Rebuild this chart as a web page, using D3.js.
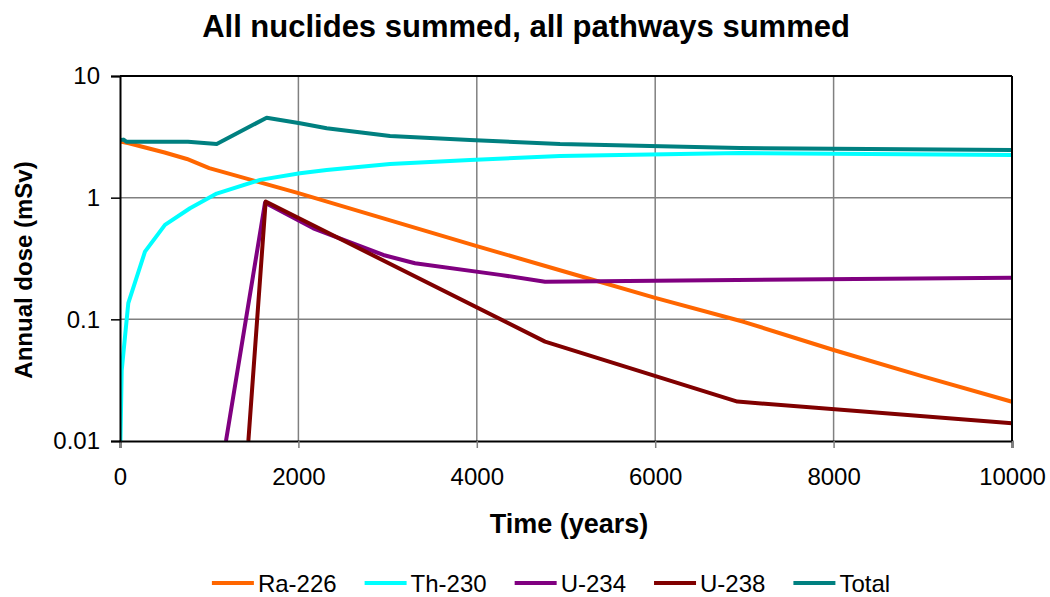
<!DOCTYPE html>
<html>
<head>
<meta charset="utf-8">
<script src="https://cdn.jsdelivr.net/npm/d3@7"></script>
<style>
  html, body { margin: 0; padding: 0; background: #fff; }
  svg { display: block; font-family: "Liberation Sans", Arial, sans-serif; }
</style>
</head>
<body>
<svg id="chart" width="1050" height="597"></svg>
<script>
// ---- data ----
const seriesNames = ["Ra-226", "Th-230", "U-234", "U-238", "Total"];
const seriesColors = ["#FF6600", "#00FFFF", "#800080", "#800000", "#008080"];

const ra226Years = [0, 100, 250, 500, 750, 1000, 1500, 2000, 3000, 4000, 5000, 6000, 7000, 8000, 9000, 10000];
const ra226Dose  = [2.9, 2.8, 2.62, 2.35, 2.08, 1.75, 1.38, 1.09, 0.66, 0.40, 0.245, 0.15, 0.095, 0.056, 0.034, 0.021];

const th230Years = [5, 19, 93, 280, 504, 785, 1084, 1570, 2018, 2317, 3027, 3924, 4933, 6951, 10000];
const th230Dose  = [0.01, 0.038, 0.136, 0.36, 0.597, 0.818, 1.08, 1.40, 1.59, 1.69, 1.89, 2.04, 2.20, 2.33, 2.24];

const u234Years = [1188, 1626, 2167, 2952, 3307, 4260, 4765, 6000, 10000];
const u234Dose  = [0.01, 0.91, 0.56, 0.338, 0.289, 0.232, 0.204, 0.208, 0.22];

const u238Years = [1439, 1633, 4765, 6921, 10000];
const u238Dose  = [0.01, 0.93, 0.0656, 0.0211, 0.014];

const totalYears = [0, 40, 75, 762, 1084, 1644, 2018, 2317, 3027, 3924, 4933, 6951, 10000];
const totalDose  = [2.98, 3.0, 2.88, 2.88, 2.76, 4.54, 4.09, 3.72, 3.21, 2.98, 2.76, 2.56, 2.47];

const xTicks = [0, 2000, 4000, 6000, 8000, 10000];
const yTicks = [0.01, 0.1, 1, 10];
const yTickLabels = ["0.01", "0.1", "1", "10"];

const titleText = "All nuclides summed, all pathways summed";
const xTitle = "Time (years)";
const yTitle = "Annual dose (mSv)";

// ---- layout ----
const svg = d3.select("#chart");
const pLeft = 120, pRight = 1012, pTop = 76, pBottom = 441;
const FONT = "'Liberation Sans', Arial, sans-serif";

const x = d3.scaleLinear().domain([0, 10000]).range([pLeft, pRight]);
const y = d3.scaleLog().domain([0.01, 10]).range([pBottom, pTop]);

const series = [
  { name: seriesNames[0], color: seriesColors[0], xs: ra226Years, ys: ra226Dose },
  { name: seriesNames[1], color: seriesColors[1], xs: th230Years, ys: th230Dose },
  { name: seriesNames[2], color: seriesColors[2], xs: u234Years, ys: u234Dose },
  { name: seriesNames[3], color: seriesColors[3], xs: u238Years, ys: u238Dose },
  { name: seriesNames[4], color: seriesColors[4], xs: totalYears, ys: totalDose }
];

// gridlines
const grid = svg.append("g");
grid.selectAll("line.v").data(xTicks.filter(d => d > 0 && d < 10000)).enter()
  .append("line")
  .attr("x1", d => x(d)).attr("x2", d => x(d))
  .attr("y1", pTop).attr("y2", pBottom)
  .attr("stroke", "#808080").attr("stroke-width", 1.5);
grid.selectAll("line.h").data(yTicks.filter(d => d > 0.01 && d < 10)).enter()
  .append("line")
  .attr("x1", pLeft).attr("x2", pRight)
  .attr("y1", d => y(d)).attr("y2", d => y(d))
  .attr("stroke", "#808080").attr("stroke-width", 1.5);

// clip
svg.append("clipPath").attr("id", "plotclip")
  .append("rect").attr("x", pLeft).attr("y", pTop - 2)
  .attr("width", pRight - pLeft + 2).attr("height", pBottom - pTop + 2);

// lines
const line = d3.line().x(d => x(d[0])).y(d => y(d[1]));
const lines = svg.append("g").attr("clip-path", "url(#plotclip)");
series.forEach(s => {
  const pts = s.xs.map((v, i) => [v, s.ys[i]]);
  lines.append("path").datum(pts)
    .attr("d", line)
    .attr("fill", "none")
    .attr("stroke", s.color)
    .attr("stroke-width", 4)
    .attr("stroke-linejoin", "round");
});

// frame
svg.append("line").attr("x1", pLeft).attr("x2", pRight).attr("y1", pTop).attr("y2", pTop)
  .attr("stroke", "#000").attr("stroke-width", 2);
svg.append("line").attr("x1", pRight).attr("x2", pRight).attr("y1", pTop).attr("y2", pBottom)
  .attr("stroke", "#000").attr("stroke-width", 2);

// axes
const xAxis = d3.axisBottom(x).tickValues(xTicks).tickFormat(d3.format("d")).tickSize(7).tickPadding(20);
const gx = svg.append("g").attr("transform", `translate(0,${pBottom})`).call(xAxis);
gx.select(".domain").attr("stroke", "#000").attr("stroke-width", 2);
gx.selectAll(".tick line").attr("stroke", "#808080").attr("stroke-width", 1.5);
gx.selectAll(".tick text").attr("font-size", 24).attr("fill", "#000").attr("font-family", FONT);

const yAxis = d3.axisLeft(y).tickValues(yTicks).tickFormat((d, i) => yTickLabels[i]).tickSize(9).tickPadding(11);
const gy = svg.append("g").attr("transform", `translate(${pLeft},0)`).call(yAxis);
gy.select(".domain").attr("stroke", "#000").attr("stroke-width", 2);
gy.selectAll(".tick line").attr("stroke", "#000").attr("stroke-width", 1.5);
gy.selectAll(".tick text").attr("font-size", 24).attr("fill", "#000").attr("font-family", FONT);

// titles
svg.append("text").attr("x", 526).attr("y", 37).attr("text-anchor", "middle")
  .attr("font-size", 31).attr("font-weight", "bold").text(titleText);
svg.append("text").attr("x", 569).attr("y", 533).attr("text-anchor", "middle")
  .attr("font-size", 27).attr("font-weight", "bold").text(xTitle);
svg.append("text").attr("transform", "translate(32,270) rotate(-90)").attr("text-anchor", "middle")
  .attr("font-size", 24).attr("font-weight", "bold").text(yTitle);

// legend
const legend = svg.append("g");
const items = [];
series.forEach(s => {
  const g = legend.append("g");
  g.append("line").attr("x1", 0).attr("x2", 42).attr("y1", 0).attr("y2", 0)
    .attr("stroke", s.color).attr("stroke-width", 4);
  const t = g.append("text").attr("x", 46).attr("y", 8.5).attr("font-size", 24).text(s.name);
  const w = 46 + t.node().getComputedTextLength();
  items.push({ g, w });
});
const spacing = 28;
const totalW = items.reduce((a, b) => a + b.w, 0) + spacing * (items.length - 1);
let lx = 551 - totalW / 2;
items.forEach(it => {
  it.g.attr("transform", `translate(${lx},583)`);
  lx += it.w + spacing;
});
</script>
</body>
</html>
